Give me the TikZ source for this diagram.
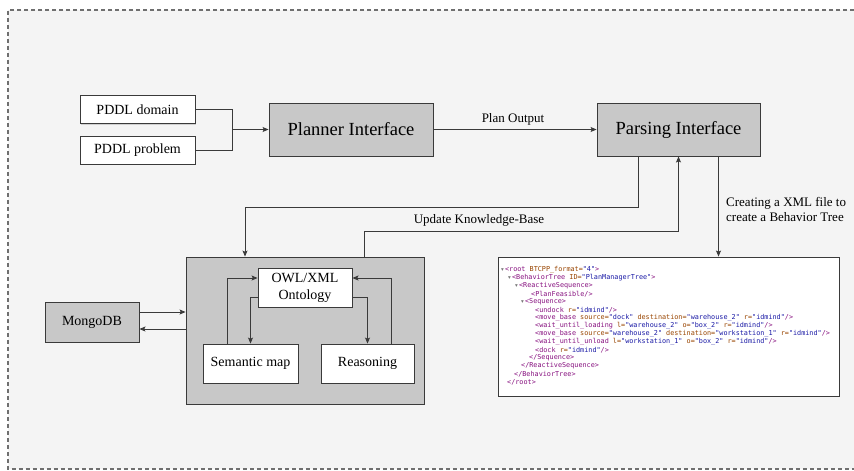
\documentclass[tikz,border=0pt]{standalone}
\usepackage{fontspec}
\setmainfont{Liberation Serif}
\newfontfamily\xmlfont{DejaVu Sans Mono}
\newfontfamily\symfont{DejaVu Sans}
\usetikzlibrary{arrows.meta,shadows,calc}
\definecolor{bgpanel}{HTML}{F4F4F4}
\definecolor{boxgray}{HTML}{C8C8C8}
\definecolor{edge}{HTML}{3A3A3A}
\definecolor{framegray}{HTML}{6F6F6F}
\definecolor{xtag}{HTML}{881280}
\definecolor{xatt}{HTML}{994500}
\definecolor{xval}{HTML}{1A1AA6}
\definecolor{xtri}{HTML}{777777}
% syntax colouring for the XML listing
\newcommand\XTg[1]{\textcolor{xtag}{#1}}
\newcommand\XAt[1]{\textcolor{xatt}{#1}}
\newcommand\XVl[1]{\textcolor{xval}{#1}}
\newcommand\XTri{\textcolor{xtri}{{\symfont\fontsize{5.5}{8}\selectfont ▾}}}

\begin{document}
\begin{tikzpicture}[x=1pt,y={(0pt,-1pt)},
  box/.style={draw=edge, line width=0.9pt, inner sep=0pt,
    drop shadow={shadow xshift=1.3pt,shadow yshift=-1.3pt,opacity=0.3}},
  whitebox/.style={box, fill=white, font=\fontsize{14}{17}\selectfont},
  graybox/.style={box, fill=boxgray},
  arr/.style={draw=edge, line width=0.85pt, -{Stealth[length=6pt,width=5pt,inset=1.2pt]}},
  plain/.style={draw=edge, line width=0.85pt},
  lbl/.style={font=\fontsize{13}{15}\selectfont, inner sep=0pt},
  xmlline/.style={anchor=west, inner sep=0pt, font=\xmlfont\fontsize{6.8}{8}\selectfont}]

\useasboundingbox (0,0) rectangle (854,471);
% panel and its dashed frame
\fill[white] (0,0) rectangle (854,471);
\fill[bgpanel] (8,10) rectangle (854,469);
\draw[framegray, line width=1.1pt, dash pattern=on 4pt off 3pt]
  (854,10) -- (8,10) -- (8,469) -- (854,469);

% planning chain
\node[whitebox, minimum width=115, minimum height=28] (dom) at (137.5,109.5) {PDDL domain};
\node[whitebox, minimum width=115, minimum height=28] (prob) at (137.5,150) {PDDL problem};
\node[graybox, minimum width=164, minimum height=53, font=\fontsize{18.5}{20}\selectfont] (plan) at (351,129.5) {Planner Interface};
\node[graybox, minimum width=163, minimum height=53, font=\fontsize{18.5}{20}\selectfont] (parse) at (678.5,129.5) {Parsing Interface};

\coordinate (junc) at (232,129.5);
\draw[plain] (dom.east) -| (junc);
\draw[plain] (prob.east) -| (junc);
\draw[arr] (junc) -- (plan.west);
\draw[arr] (plan.east) -- (parse.west);
\node[lbl] (planout) at (513,119) {Plan Output};

% knowledge base
\node[graybox, minimum width=238, minimum height=147] (kb) at (305,330.5) {};
\node[whitebox, minimum width=94, minimum height=39, align=center] (onto) at (305,287.5) {OWL/XML\\Ontology};
\node[whitebox, minimum width=95, minimum height=39] (sem) at (250.5,363.5) {Semantic map};
\node[whitebox, minimum width=93, minimum height=39] (reas) at (367.5,363.5) {Reasoning};
\node[graybox, minimum width=94, minimum height=40, font=\fontsize{14}{17}\selectfont] (mongo) at (92,322) {MongoDB};

\draw[arr] ([xshift=-23.5pt]sem.north) |- ([yshift=9.5pt]onto.west);
\draw[arr] ([yshift=-9.5pt]onto.west) -| (sem.north);
\draw[arr] ([yshift=-9.5pt]onto.east) -| (reas.north);
\draw[arr] ([xshift=23.5pt]reas.north) |- ([yshift=9.5pt]onto.east);

\draw[arr] ([yshift=10pt]mongo.east) -- ([yshift=10pt]mongo.east -| kb.west);
\draw[arr] ([yshift=-7pt]mongo.east -| kb.west) -- ([yshift=-7pt]mongo.east);

% links between parser and knowledge base
\coordinate (downbend) at (245,207);
\coordinate (upbend) at (364,231);
\draw[arr] ([xshift=-40pt]parse.south) |- (downbend) -- (kb.north -| downbend);
\draw[arr] (kb.north -| upbend) -- (upbend) -| (parse.south);
\node[lbl] (kbupd) at (479,220) {Update Knowledge-Base};

% generated behaviour tree
\node[box, fill=white, minimum width=341, minimum height=139] (xml) at (668.5,326.5) {};
\draw[arr] ([xshift=40pt]parse.south) -- ([xshift=40pt]parse.south |- xml.north);
\node[lbl, anchor=west, align=left] (mkxml) at (726,209.5) {Creating a XML file to\\create a Behavior Tree};

\node[xmlline] (x1) at (501,270) {\XTri\,\XTg{<root} \XAt{BTCPP\_format=}\XVl{"4"}\XTg{>}};
\node[xmlline] (x2) at (508,278) {\XTri\,\XTg{<BehaviorTree} \XAt{ID=}\XVl{"PlanManagerTree"}\XTg{>}};
\node[xmlline] (x3) at (515,286) {\XTri\,\XTg{<ReactiveSequence>}};
\node[xmlline] (x4) at (531,294) {\XTg{<PlanFeasible/>}};
\node[xmlline] (x5) at (521,302) {\XTri\,\XTg{<Sequence>}};
\node[xmlline] (x6) at (535,310) {\XTg{<undock} \XAt{r=}\XVl{"idmind"}\XTg{/>}};
\node[xmlline] (x7) at (535,318) {\XTg{<move\_base} \XAt{source=}\XVl{"dock"} \XAt{destination=}\XVl{"warehouse\_2"} \XAt{r=}\XVl{"idmind"}\XTg{/>}};
\node[xmlline] (x8) at (535,326) {\XTg{<wait\_until\_loading} \XAt{l=}\XVl{"warehouse\_2"} \XAt{o=}\XVl{"box\_2"} \XAt{r=}\XVl{"idmind"}\XTg{/>}};
\node[xmlline] (x9) at (535,334) {\XTg{<move\_base} \XAt{source=}\XVl{"warehouse\_2"} \XAt{destination=}\XVl{"workstation\_1"} \XAt{r=}\XVl{"idmind"}\XTg{/>}};
\node[xmlline] (x10) at (535,342) {\XTg{<wait\_until\_unload} \XAt{l=}\XVl{"workstation\_1"} \XAt{o=}\XVl{"box\_2"} \XAt{r=}\XVl{"idmind"}\XTg{/>}};
\node[xmlline] (x11) at (535,350) {\XTg{<dock} \XAt{r=}\XVl{"idmind"}\XTg{/>}};
\node[xmlline] (x12) at (529,358) {\XTg{</Sequence>}};
\node[xmlline] (x13) at (521,366) {\XTg{</ReactiveSequence>}};
\node[xmlline] (x14) at (514,374) {\XTg{</BehaviorTree>}};
\node[xmlline] (x15) at (507,382) {\XTg{</root>}};
\end{tikzpicture}
\end{document}
